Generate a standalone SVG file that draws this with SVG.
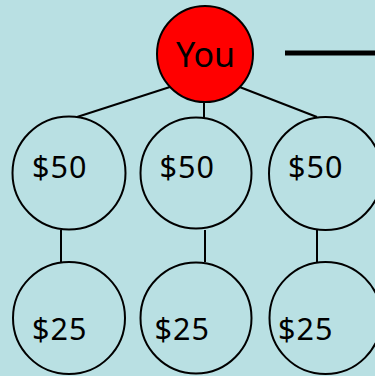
<svg xmlns="http://www.w3.org/2000/svg" width="375" height="376" viewBox="0 0 375 376">
<style>
.node{fill:#b9e0e3;stroke:#000;stroke-width:2}
.you{fill:#ff0000;stroke:#000;stroke-width:2}
.lbl{font-family:"Noto Sans","Open Sans","DejaVu Sans",sans-serif;font-size:30.5px;letter-spacing:1px;fill:#000}
.conn line{stroke:#000;stroke-width:2}
</style>
<rect x="0" y="0" width="375" height="376" fill="#b9e0e3"/>
<g id="connectors" class="conn">
<line x1="173" y1="86" x2="77" y2="117"/>
<line x1="204" y1="101" x2="204" y2="118"/>
<line x1="237" y1="86" x2="317" y2="117"/>
<line x1="61" y1="230" x2="61" y2="262"/>
<line x1="205" y1="230" x2="205" y2="262"/>
<line x1="317" y1="230" x2="317" y2="262"/>
<line x1="285" y1="53" x2="375" y2="53" style="stroke-width:5"/>
</g>
<g id="you"><circle class="you" cx="205" cy="54" r="48"/><text class="lbl" x="176" y="67" style="font-size:34px;letter-spacing:0">You</text></g>
<g id="n50a"><circle class="node" cx="69" cy="173" r="56.5"/><text class="lbl" x="32" y="178">$50</text></g>
<g id="n50b"><circle class="node" cx="196" cy="173" r="55.5"/><text class="lbl" x="159.5" y="178">$50</text></g>
<g id="n50c"><circle class="node" cx="325.5" cy="173.5" r="56.5"/><text class="lbl" x="288" y="178">$50</text></g>
<g id="n25a"><circle class="node" cx="69" cy="318" r="56"/><text class="lbl" x="32" y="340">$25</text></g>
<g id="n25b"><circle class="node" cx="196" cy="318" r="55.5"/><text class="lbl" x="154.5" y="340">$25</text></g>
<g id="n25c"><circle class="node" cx="325.5" cy="318" r="56"/><text class="lbl" x="278" y="340">$25</text></g>
</svg>
